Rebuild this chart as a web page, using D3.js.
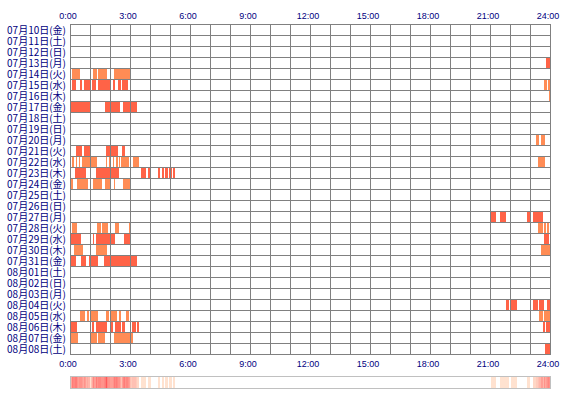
<!DOCTYPE html>
<html>
<head>
<meta charset="utf-8">
<script src="https://cdn.jsdelivr.net/npm/d3@7/dist/d3.min.js"></script>
<style>
  body { margin: 0; background: #fff; }
  svg { display: block; }
  .day { font-family: "Noto Sans CJK JP", sans-serif; font-size: 10px; fill: #000080; }
  .axis text { font-family: "Liberation Sans", Arial, sans-serif; font-size: 9px; fill: #000080; }
</style>
</head>
<body>
<div id="chart"></div>
<script>
// row labels, one per day
var days = [
  '07月10日(金)', '07月11日(土)', '07月12日(日)', '07月13日(月)', '07月14日(火)',
  '07月15日(水)', '07月16日(木)', '07月17日(金)', '07月18日(土)', '07月19日(日)',
  '07月20日(月)', '07月21日(火)', '07月22日(水)', '07月23日(木)', '07月24日(金)',
  '07月25日(土)', '07月26日(日)', '07月27日(月)', '07月28日(火)', '07月29日(水)',
  '07月30日(木)', '07月31日(金)', '08月01日(土)', '08月02日(日)', '08月03日(月)',
  '08月04日(火)', '08月05日(水)', '08月06日(木)', '08月07日(金)', '08月08日(土)'
];

// hour tick labels (every 3 hours)
var hourTicks = ['0:00', '3:00', '6:00', '9:00', '12:00', '15:00', '18:00', '21:00', '24:00'];

// sleep segments per day: [start minute, end minute]
// light = lighter orange, dark = tomato red
var lightSegments = {
  '07月14日(火)': [[6, 30], [69, 81], [84, 111], [132, 180]],
  '07月15日(水)': [[1422, 1431], [1434, 1440]],
  '07月16日(木)': [[1437, 1440]],
  '07月20日(月)': [[1398, 1407], [1413, 1425]],
  '07月22日(水)': [[6, 12], [18, 21], [27, 30], [36, 81], [108, 111], [117, 123], [129, 132],
                 [138, 144], [147, 150], [153, 177], [189, 207], [1404, 1425]],
  '07月24日(金)': [[3, 9], [21, 54], [69, 96], [105, 120], [132, 135], [159, 180]],
  '07月28日(火)': [[6, 21], [81, 93], [96, 114], [135, 147], [177, 180],
                 [1404, 1419], [1422, 1428], [1431, 1437]],
  '07月30日(木)': [[12, 39], [78, 111], [1413, 1440]],
  '08月05日(水)': [[30, 45], [51, 57], [63, 84], [108, 117], [120, 141], [147, 153], [168, 177],
                 [1407, 1419], [1422, 1440]],
  '08月07日(金)': [[3, 24], [63, 81], [84, 105], [132, 189]]
};
var darkSegments = {
  '07月13日(月)': [[1428, 1440]],
  '07月15日(水)': [[6, 18], [30, 36], [42, 60], [66, 78], [84, 120], [129, 135], [144, 153], [156, 174]],
  '07月17日(金)': [[3, 60], [105, 150], [159, 201]],
  '07月21日(火)': [[18, 36], [42, 60], [108, 120], [123, 144], [156, 165]],
  '07月23日(木)': [[15, 48], [78, 147], [213, 228], [234, 243], [264, 270], [276, 282],
                 [285, 294], [297, 306], [309, 315]],
  '07月27日(月)': [[1263, 1278], [1290, 1308], [1371, 1380], [1389, 1419]],
  '07月29日(水)': [[3, 33], [69, 72], [78, 135], [162, 183], [1422, 1437]],
  '07月31日(金)': [[3, 18], [33, 48], [57, 60], [63, 84], [102, 201]],
  '08月04日(火)': [[1308, 1317], [1323, 1341], [1389, 1404], [1407, 1422], [1431, 1440]],
  '08月06日(木)': [[3, 21], [66, 72], [78, 111], [120, 129], [135, 153], [156, 165], [186, 198],
                 [201, 207], [1419, 1425], [1428, 1440]],
  '08月08日(土)': [[1425, 1440]]
};

var w = 570, h = 400;
var svg = d3.select('#chart').append('svg')
  .attr('width', w)
  .attr('height', h);

var x = d3.scaleLinear().domain([0, 1440]).range([70, 550]);
var y = d3.scaleBand().domain(days).range([24, 354]);

// flatten segments into bars
var bars = [];
[[lightSegments, '#ff8c55'], [darkSegments, '#ff6347']].forEach(function(pair) {
  Object.keys(pair[0]).forEach(function(day) {
    pair[0][day].forEach(function(s) {
      bars.push({ day: day, start: s[0], end: s[1], color: pair[1] });
    });
  });
});

svg.append('g').selectAll('rect').data(bars).enter().append('rect')
  .attr('x', function(d) { return x(d.start); })
  .attr('y', function(d) { return y(d.day) + 1; })
  .attr('width', function(d) { return x(d.end) - x(d.start); })
  .attr('height', y.bandwidth() - 1)
  .attr('fill', function(d) { return d.color; });

// grid
var grid = svg.append('g').attr('stroke', '#808080').attr('stroke-width', 1).attr('shape-rendering', 'crispEdges');
grid.selectAll('line.v').data(d3.range(0, 1441, 60)).enter().append('line')
  .attr('x1', function(d) { return x(d) + 0.5; })
  .attr('x2', function(d) { return x(d) + 0.5; })
  .attr('y1', y.range()[0])
  .attr('y2', y.range()[1] + 1);
grid.selectAll('line.h').data(days.concat(['end'])).enter().append('line')
  .attr('x1', x(0))
  .attr('x2', x(1440) + 1)
  .attr('y1', function(d, i) { return y.range()[0] + i * y.step() + 0.5; })
  .attr('y2', function(d, i) { return y.range()[0] + i * y.step() + 0.5; });

// day labels
svg.append('g').selectAll('text').data(days).enter().append('text')
  .attr('class', 'day')
  .attr('x', 66)
  .attr('y', function(d) { return y(d) + 9.5; })
  .attr('text-anchor', 'end')
  .text(function(d) { return d; });

// hour axes
var tickMinutes = hourTicks.map(function(t) { return +t.split(':')[0] * 60; });
function hourAxis(axis) {
  return axis.tickValues(tickMinutes)
    .tickSize(0)
    .tickFormat(function(d, i) { return hourTicks[i]; });
}
svg.append('g')
  .attr('class', 'axis')
  .attr('transform', 'translate(-2.5,' + y.range()[0] + ')')
  .call(hourAxis(d3.axisTop(x)).tickPadding(5))
  .call(function(g) { g.select('.domain').remove(); });
svg.append('g')
  .attr('class', 'axis')
  .attr('transform', 'translate(-2.5,' + y.range()[1] + ')')
  .call(hourAxis(d3.axisBottom(x)).tickPadding(7))
  .call(function(g) { g.select('.domain').remove(); });

// summary strip: how many days were asleep in each 3-minute slot
var slots = d3.range(0, 1440, 3);
var counts = slots.map(function(m) {
  return days.filter(function(day) {
    return bars.some(function(b) { return b.day == day && b.start <= m && m < b.end; });
  }).length;
});
var maxCount = d3.max(counts);
var heat = d3.scaleLinear().domain([1, maxCount]).range(['#ffe2d0', '#ff5a5a']);

var strip = svg.append('g').attr('transform', 'translate(0,376)');
strip.selectAll('rect').data(slots).enter().append('rect')
  .filter(function(d, i) { return counts[i] > 0; })
  .attr('x', function(d) { return x(d); })
  .attr('y', 1)
  .attr('width', x(3) - x(0))
  .attr('height', 11)
  .attr('fill', function(d) { return heat(counts[slots.indexOf(d)]); });
strip.append('rect')
  .attr('x', x(0) + 0.5)
  .attr('y', 0.5)
  .attr('width', x(1440) - x(0))
  .attr('height', 12)
  .attr('fill', 'none')
  .attr('stroke', '#c0c0c0')
  .attr('shape-rendering', 'crispEdges');
</script>
</body>
</html>
